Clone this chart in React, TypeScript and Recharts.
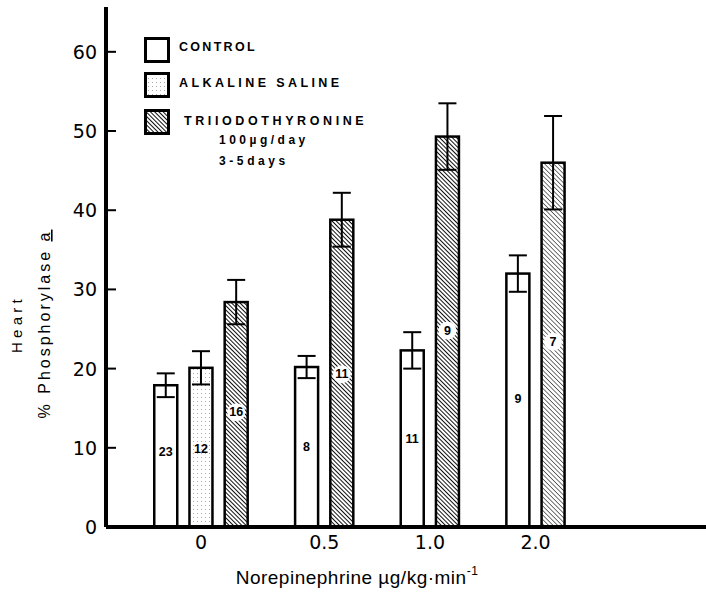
import { BarChart, Bar, XAxis, YAxis, ErrorBar, Legend, Label } from "recharts";

// values (% phosphorylase a, mean ± SE, n animals)
const doses = ["0", "0.5", "1.0", "2.0"];

const control = [17.9, 20.2, 22.3, 32.0];
const controlErr = [1.5, 1.4, 2.3, 2.3];
const controlN = [23, 8, 11, 9];
const controlNAt = [9.5, 10.1, 11.1, 16.2];

const saline = [20.1, null, null, null];
const salineErr = [2.1, null, null, null];
const salineN = [12, null, null, null];
const salineNAt = [9.8, null, null, null];

const t3 = [28.4, 38.8, 49.3, 46.0];
const t3Err = [2.8, 3.4, 4.2, 5.9];
const t3N = [16, 11, 9, 7];
const t3NAt = [14.5, 19.3, 24.8, 23.4];

const yTicks = [0, 10, 20, 30, 40, 50, 60];

const FONT = "'Liberation Sans', Arial, sans-serif";
const TICK_FONT = "'DejaVu Sans', sans-serif";

type Series = "control" | "saline" | "t3";
interface Row {
  slot: number;
  value: number;
  err: number;
  n: number;
  nAt: number;
  series: Series;
  dose: string;
}

// one slot per bar, an empty slot between dose groups
const rows: Row[] = [];
const doseTicks: number[] = [];
let slot = 0;
doses.forEach((dose, i) => {
  const groups: [Series, (number | null)[], (number | null)[], (number | null)[], (number | null)[]][] = [
    ["control", control, controlErr, controlN, controlNAt],
    ["saline", saline, salineErr, salineN, salineNAt],
    ["t3", t3, t3Err, t3N, t3NAt],
  ];
  const first = slot;
  groups.forEach(([series, vals, errs, ns, ats]) => {
    const v = vals[i];
    if (v == null) return;
    rows.push({ slot, value: v, err: errs[i] ?? 0, n: ns[i] ?? 0, nAt: ats[i] ?? v / 2, series, dose });
    slot++;
  });
  doseTicks.push((first + slot - 1) / 2);
  slot++;
});

const fillFor = (r: Row) => {
  if (r.series === "control") return "#fff";
  if (r.series === "saline") return "url(#dots)";
  return r.dose === "2.0" ? "url(#hatchLight)" : "url(#hatch)";
};

const BarShape = (props: any) => {
  const { x, y, width, height, payload } = props;
  const r = payload as Row;
  const cx = x + width / 2;
  const ly = y + height - (height * r.nAt) / r.value;
  return (
    <g>
      <rect x={x} y={y} width={width} height={height} fill={fillFor(r)} stroke="#000" strokeWidth={2.5} />
      {r.series === "t3" && <circle cx={cx} cy={ly} r={9} fill="#fff" />}
      <text x={cx} y={ly} textAnchor="middle" dominantBaseline="central" fontSize={12.5} fontWeight="bold" fontFamily={FONT} fill="#000">
        {r.n}
      </text>
    </g>
  );
};

const YTick = ({ x, y, payload }: any) => (
  <g>
    <line x1={x} x2={x + 10} y1={y} y2={y} stroke="#000" strokeWidth={2} />
    <text x={x - 9} y={y} textAnchor="end" dominantBaseline="central" fontSize={19} fontFamily={TICK_FONT} fill="#000">
      {payload.value}
    </text>
  </g>
);

const LegendBox = () => (
  <svg width={250} height={150} style={{ overflow: "visible" }}>
    <rect x={6.5} y={9.5} width={23} height={23} fill="#fff" stroke="#000" strokeWidth={3} />
    <rect x={6.5} y={44.5} width={23} height={23} fill="url(#dots)" stroke="#000" strokeWidth={3} />
    <rect x={6.5} y={81.5} width={23} height={23} fill="url(#hatch)" stroke="#000" strokeWidth={3} />
    <g fontFamily={FONT} fontWeight="bold" fontSize={12.5} fill="#000">
      <text x={40} y={18} dominantBaseline="central" letterSpacing={2.3}>CONTROL</text>
      <text x={40} y={54} dominantBaseline="central" letterSpacing={3.4}>ALKALINE SALINE</text>
      <text x={45} y={92} dominantBaseline="central" letterSpacing={3.6}>TRIIODOTHYRONINE</text>
      <text x={80} y={111} dominantBaseline="central" fontSize={12} letterSpacing={3.5}>100µg/day</text>
      <text x={80} y={132} dominantBaseline="central" fontSize={12} letterSpacing={3.6}>3-5days</text>
    </g>
  </svg>
);

export default function App() {
  return (
    <div style={{ position: "absolute", left: 0, top: 0, width: 706, height: 599, background: "#fff" }}>
      <BarChart width={706} height={599} data={rows} margin={{ top: 7, right: 0, left: 0, bottom: 0 }}>
        <defs>
          <pattern id="hatch" width={3} height={3} patternUnits="userSpaceOnUse" patternTransform="rotate(-45)">
            <rect width={3} height={3} fill="#fff" />
            <line x1={0} y1={0} x2={0} y2={3} stroke="#111" strokeWidth={2} />
          </pattern>
          <pattern id="hatchLight" width={3.2} height={3.2} patternUnits="userSpaceOnUse" patternTransform="rotate(-45)">
            <rect width={3.2} height={3.2} fill="#fff" />
            <line x1={0} y1={0} x2={0} y2={3.2} stroke="#444" strokeWidth={1.5} />
          </pattern>
          <pattern id="dots" width={4} height={4} patternUnits="userSpaceOnUse">
            <rect width={4} height={4} fill="#fff" />
            <rect x={1} y={1} width={1} height={1} fill="#aaa" />
          </pattern>
        </defs>
        <XAxis
          type="number"
          dataKey="slot"
          domain={[-1.7, 15.34]}
          allowDataOverflow
          ticks={doseTicks}
          interval={0}
          tickFormatter={(_v: number, i: number) => doses[i]}
          axisLine={{ stroke: "#000", strokeWidth: 4 }}
          tickLine={false}
          tickSize={0}
          tickMargin={9}
          tick={{ fontSize: 19, fill: "#000", fontFamily: TICK_FONT }}
          height={72}
        >
          <Label
            content={() => (
              <text x={357} y={584} textAnchor="middle" fontSize={19} fontFamily={FONT} letterSpacing={0.5} fill="#000">
                Norepinephrine µg/kg·min
                <tspan dy={-9} fontSize={12}>-1</tspan>
              </text>
            )}
          />
        </XAxis>
        <YAxis
          type="number"
          domain={[0, 65.66]}
          allowDataOverflow
          ticks={yTicks}
          interval={0}
          width={106}
          axisLine={{ stroke: "#000", strokeWidth: 4 }}
          tickLine={false}
          tickSize={0}
          tickMargin={0}
          tick={<YTick />}
        >
          <Label
            content={() => (
              <g fontFamily={FONT} fill="#000">
                <text transform="translate(22,324) rotate(-90)" textAnchor="middle" fontSize={15} letterSpacing={4.3}>Heart</text>
                <text transform="translate(50,324) rotate(-90)" textAnchor="middle" fontSize={16} letterSpacing={3}>
                  % Phosphorylase <tspan textDecoration="underline">a</tspan>
                </text>
              </g>
            )}
          />
        </YAxis>
        <Legend
          verticalAlign="middle"
          align="center"
          layout="horizontal"
          content={() => <LegendBox />}
          wrapperStyle={{ position: "absolute", left: 139, top: 29, width: 250, height: 150 }}
        />
        <Bar dataKey="value" barSize={23} shape={<BarShape />} isAnimationActive={false}>
          <ErrorBar dataKey="err" width={9} strokeWidth={2} stroke="#000" direction="y" />
        </Bar>
      </BarChart>
    </div>
  );
}
